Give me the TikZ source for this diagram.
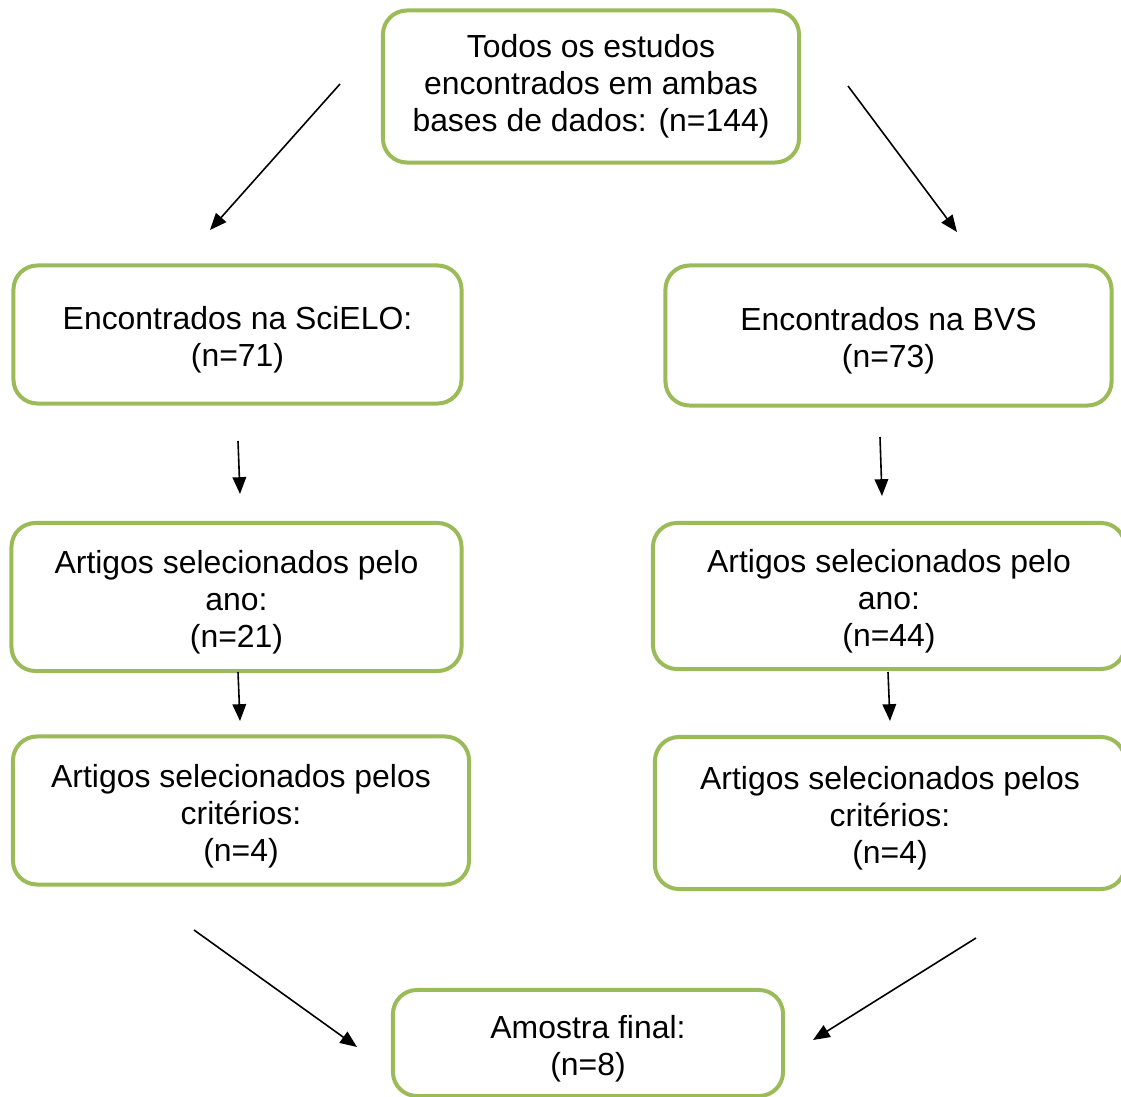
\documentclass[tikz,border=0pt]{standalone}
\usepackage{fontspec}
\setmainfont{Liberation Sans}
\usepackage{tikz}
\usetikzlibrary{arrows.meta}
\definecolor{verdeBordo}{RGB}{155,187,89}
\tikzset{
    caixa/.style={draw=verdeBordo, line width=0.1cm, rounded corners=0.6cm, fill=white,
        align=center, inner sep=0pt, font=\fontsize{22.7}{26.3}\selectfont},
    seta/.style={line width=0.04cm, -{Triangle[length=0.42cm, width=0.34cm]}}
}
\newcommand{\desce}{\rule{0pt}{0.86cm}}

\begin{document}
\begin{tikzpicture}[x=0.025cm, y=-0.025cm]
                \useasboundingbox (0,0) rectangle (1121,1097);

                % Boxes
                \node[caixa, minimum width=10.4cm, minimum height=3.8cm] (todos) at (591,86.5) {Todos os estudos\\encontrados em ambas\\bases de dados: (n=144)};
                \node[caixa, minimum width=11.2cm, minimum height=3.45cm] (scielo) at (237.5,334.5) {\desce Encontrados na SciELO:\\(n=71)};
                \node[caixa, minimum width=11.15cm, minimum height=3.5cm] (bvs) at (888.5,335.5) {\desce Encontrados na BVS\\(n=73)};
                \node[caixa, minimum width=11.25cm, minimum height=3.7cm] (anoScielo) at (236.5,597) {\desce Artigos selecionados pelo\\ano:\\(n=21)};
                \node[caixa, minimum width=11.8cm, minimum height=3.65cm] (anoBvs) at (889,596) {\desce Artigos selecionados pelo\\ano:\\(n=44)};
                \node[caixa, minimum width=11.4cm, minimum height=3.7cm] (critScielo) at (241,810.5) {\desce Artigos selecionados pelos\\critérios:\\(n=4)};
                \node[caixa, minimum width=11.75cm, minimum height=3.8cm] (critBvs) at (890,813) {\desce Artigos selecionados pelos\\critérios:\\(n=4)};
                \node[caixa, minimum width=9.75cm, minimum height=2.65cm] (final) at (588,1043) {\desce Amostra final:\\(n=8)};

                % Arrow ends (free, between the boxes)
                \coordinate (t1) at (340,84);   \coordinate (h1) at (210,230);
                \coordinate (t2) at (848,86);   \coordinate (h2) at (957,232);
                \coordinate (t3) at (238,441);  \coordinate (h3) at (240,494);
                \coordinate (t4) at (880,437);  \coordinate (h4) at (882,496);
                \coordinate (t5) at (238,672);  \coordinate (h5) at (240,721);
                \coordinate (t6) at (888,672);  \coordinate (h6) at (890,721);
                \coordinate (t7) at (194,930);  \coordinate (h7) at (357,1047);
                \coordinate (t8) at (976,938);  \coordinate (h8) at (813,1040);

                % Arrows
                \foreach \i in {1,...,8}
                    \draw[seta] (t\i) -- (h\i);
            \end{tikzpicture}
\end{document}
